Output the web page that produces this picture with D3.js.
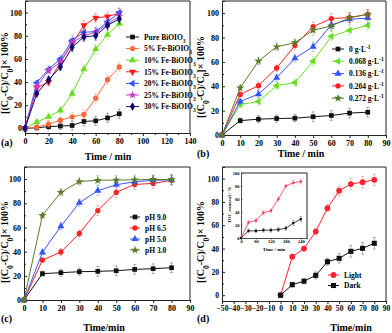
<!DOCTYPE html>
<html>
<head>
<meta charset="utf-8">
<script src="https://cdn.jsdelivr.net/npm/d3@7"></script>
<style>
  body { margin: 0; background: #fff; }
  text { font-family: "Liberation Serif", "Times New Roman", serif; font-weight: bold; fill: #000; }
</style>
</head>
<body>
<svg id="chart" width="392" height="333"></svg>
<script>
// sampling times (min), shared by all four panels
const time = [0, 10, 20, 30, 40, 50, 60, 70, 80];

// (a) Fe doping level
const pureA  = [0, 0.5, 1.5, 2, 2.5, 6, 6.5, 9, 12.6];
const fe5A   = [0, 1, 3.7, 7, 10, 12, 26, 42, 53];
const fe10A  = [0, 5.5, 10, 15.5, 30, 51, 68.5, 81, 90.5];
const fe15A  = [0, 35, 40, 57, 73, 89, 95.5, 96.5, 99.5];
const fe20A  = [0, 39.5, 51, 60, 76, 83, 83.5, 92, 100];
const fe25A  = [0, 36, 50, 57, 74, 80, 83, 90, 97];
const fe30A  = [0, 30, 42, 53, 70, 79, 80, 89, 94.5];
const errA   = [0, 2, 3, 3, 4, 4, 4, 4, 4];

// (b) catalyst dosage
const dose0B    = [0, 11.8, 13, 13.5, 13.8, 15, 16, 18, 18.7];
const dose068B  = [0, 25, 27.5, 40.5, 43, 60.6, 81, 86, 90];
const dose136B  = [0, 27.5, 33.6, 47, 63, 72.5, 90.4, 95, 96];
const dose204B  = [0, 33.3, 40.5, 55, 73.5, 89, 95.6, 96.4, 99];
const dose272B  = [0, 38.6, 60.6, 72.4, 75.8, 86, 89.5, 96.4, 99];
const errB      = [0, 2, 3, 3, 3, 4, 4, 4, 4];

// (c) initial pH
const ph9C  = [0, 21.8, 22.6, 23.4, 23.7, 24.2, 25.3, 25.9, 26.7];
const ph65C = [0, 33, 39.7, 55, 74, 89, 95.6, 96.4, 99];
const ph5C  = [0, 39.4, 61, 80.4, 90.4, 95.3, 97.8, 99, 99.4];
const ph3C  = [0, 70, 89, 98, 99, 99.2, 99.4, 99.7, 99.7];
const errC  = [0, 2, 3, 3, 4, 4, 4, 4, 4];

// (d) light vs dark
const lightD = [0, 33, 40, 54.6, 74.7, 89.7, 95.4, 97, 99];
const darkD  = [0, 9, 12, 17, 28.7, 31.6, 37.6, 40.2, 44.5];
const errD   = [0, 2, 2, 3, 3, 4, 5, 5, 5];

// (d) inset: TOC removal
const tocTime  = [0, 30, 60, 90, 120, 150, 180, 210, 240];
const tocLight = [0, 24, 27, 39, 42, 60, 80, 85, 87];
const tocDark  = [0, 11, 11, 12, 12, 13, 15, 23, 29];
const tocErr   = [0, 3, 3, 3, 3, 3, 3, 4, 4];

const svg = d3.select('#chart');

// writes text made of [string, 'sub'|'sup'|null] parts
function rich(sel, parts) {
  parts.forEach(([s, kind]) => {
    const t = sel.append('tspan').text(s);
    if (kind === 'sub') t.attr('baseline-shift', 'sub').attr('font-size', '75%');
    if (kind === 'sup') t.attr('baseline-shift', 'super').attr('font-size', '75%');
  });
  return sel;
}

const yLabel = [['[(C', null], ['0', 'sub'], ['-C)/C', null], ['0', 'sub'], [']× 100%', null]];

function symbolPath(kind, size) {
  const types = {
    square: d3.symbolSquare, circle: d3.symbolCircle, tri: d3.symbolTriangle,
    triDown: d3.symbolTriangle, triLeft: d3.symbolTriangle, star: d3.symbolStar, diamond: d3.symbolDiamond
  };
  return d3.symbol().type(types[kind]).size(size)();
}
function symbolRot(kind) {
  if (kind === 'triDown') return 180;
  if (kind === 'triLeft') return -90;
  return 0;
}

function drawPanel(cfg) {
  const g = svg.append('g');
  const x = d3.scaleLinear().domain(cfg.xDomain).range(cfg.xRange);
  const y = d3.scaleLinear().domain(cfg.yDomain).range(cfg.yRange);
  const [x0, x1] = cfg.xRange, [y0, y1] = cfg.yRange;
  const fs = cfg.tickFont || 8;
  const tl = cfg.tickLen || 3, tp = cfg.tickPad || 2;

  if (cfg.background)
    g.append('rect').attr('x', x0).attr('y', y1).attr('width', x1 - x0).attr('height', y0 - y1).attr('fill', '#fff');

  // x axis (ticks outward)
  g.append('g').attr('transform', `translate(0,${y0})`)
    .call(d3.axisBottom(x).tickValues(cfg.xTicks).tickSize(tl).tickPadding(tp));
  if (cfg.xMinor)
    g.append('g').attr('transform', `translate(0,${y0})`)
      .call(d3.axisBottom(x).tickValues(cfg.xMinor).tickSize(2).tickFormat(''))
      .call(a => a.select('.domain').remove());
  // y axis (ticks inward)
  g.append('g').attr('transform', `translate(${x0},0)`)
    .call(d3.axisLeft(y).tickValues(cfg.yTicks).tickSize(-tl).tickPadding(tp + 1));
  if (cfg.yMinor)
    g.append('g').attr('transform', `translate(${x0},0)`)
      .call(d3.axisLeft(y).tickValues(cfg.yMinor).tickSize(-2).tickFormat(''))
      .call(a => a.select('.domain').remove());
  g.selectAll('.tick text').attr('font-size', fs).attr('font-family', null);
  g.selectAll('.domain, .tick line').attr('stroke', '#222');

  // frame top and right
  g.append('path').attr('d', `M${x0},${y1}H${x1}V${y0}`).attr('fill', 'none').attr('stroke', '#222');

  const xs = cfg.xs || time;
  const err = cfg.err;
  cfg.series.forEach(s => {
    const sg = g.append('g');
    // error bars
    xs.forEach((t, i) => {
      if (!err[i]) return;
      const cx = x(t), lo = y(s.values[i] - err[i]), hi = y(s.values[i] + err[i]);
      const c = cfg.cap || 1.5;
      sg.append('path')
        .attr('d', `M${cx},${lo}V${hi}M${cx - c},${hi}H${cx + c}M${cx - c},${lo}H${cx + c}`)
        .attr('stroke', s.color).attr('stroke-opacity', 0.4).attr('stroke-width', 0.8).attr('fill', 'none');
    });
    sg.append('path')
      .attr('d', d3.line().x((d, i) => x(xs[i])).y(d => y(d))(s.values))
      .attr('fill', 'none').attr('stroke', s.color).attr('stroke-width', cfg.lw || 1);
    sg.selectAll('.m').data(s.values).join('path')
      .attr('transform', (d, i) => `translate(${x(xs[i])},${y(d)}) rotate(${symbolRot(s.symbol)})`)
      .attr('d', symbolPath(s.symbol, cfg.msize || 22))
      .attr('fill', s.color);
  });

  // legend
  if (cfg.legend) {
    const L = cfg.legend;
    cfg.series.forEach((s, i) => {
      const ly = L.y + i * L.dy;
      g.append('line').attr('x1', L.x).attr('x2', L.x + L.w).attr('y1', ly).attr('y2', ly)
        .attr('stroke', s.color).attr('stroke-width', 1);
      g.append('path').attr('d', symbolPath(s.symbol, cfg.msize || 22))
        .attr('transform', `translate(${L.x + L.w / 2},${ly}) rotate(${symbolRot(s.symbol)})`)
        .attr('fill', s.color);
      rich(g.append('text').attr('x', L.x + L.w + 5).attr('y', ly + 2.7).attr('font-size', L.fs || 7.5), s.label);
    });
  }

  // axis titles and panel tag
  if (cfg.yTitle)
    rich(g.append('text').attr('transform', `translate(${cfg.yTitle[0]},${cfg.yTitle[1]}) rotate(-90)`)
      .attr('text-anchor', 'middle').attr('font-size', cfg.yTitle[2] || 10), cfg.yTitle[3] || yLabel);
  if (cfg.xTitle)
    g.append('text').attr('x', cfg.xTitle[0]).attr('y', cfg.xTitle[1]).attr('text-anchor', 'middle')
      .attr('font-size', cfg.xTitle[2] || 10).text(cfg.xTitle[3]);
  if (cfg.tag)
    g.append('text').attr('x', cfg.tag[0]).attr('y', cfg.tag[1]).attr('font-size', 10).text(cfg.tag[2]);
  return g;
}

const bi = p => [[p + 'BiOIO', null], ['3', 'sub']];
const gl = v => [[v + ' g·L', null], ['-1', 'sup']];

// (a)
drawPanel({
  xDomain: [0, 140], xRange: [25, 190], yDomain: [-4, 110], yRange: [133, 1],
  xTicks: d3.range(0, 141, 20), xMinor: d3.range(10, 140, 20),
  yTicks: d3.range(0, 101, 20), yMinor: d3.range(10, 110, 20),
  err: errA,
  series: [
    { label: bi('Pure '), values: pureA, color: '#111111', symbol: 'square' },
    { label: bi('5% Fe-'), values: fe5A, color: '#ff6a3a', symbol: 'circle' },
    { label: bi('10% Fe-'), values: fe10A, color: '#66dd22', symbol: 'tri' },
    { label: bi('15% Fe-'), values: fe15A, color: '#ff1a1a', symbol: 'triDown' },
    { label: bi('20% Fe-'), values: fe20A, color: '#3355ff', symbol: 'triLeft' },
    { label: bi('25% Fe-'), values: fe25A, color: '#c040c8', symbol: 'star' },
    { label: bi('30% Fe-'), values: fe30A, color: '#0a0a6e', symbol: 'diamond' }
  ],
  legend: { x: 126, y: 37, dy: 11.6, w: 13 },
  yTitle: [8, 73], xTitle: [108, 160, 10, 'Time / min'], tag: [1, 146, '(a)']
});

// (b)
drawPanel({
  xDomain: [0, 90], xRange: [222, 386], yDomain: [0, 110], yRange: [135, 1],
  xTicks: d3.range(0, 91, 10),
  yTicks: d3.range(0, 101, 20), yMinor: d3.range(10, 110, 20),
  err: errB,
  series: [
    { label: gl('0'), values: dose0B, color: '#111111', symbol: 'square' },
    { label: gl('0.068'), values: dose068B, color: '#66dd22', symbol: 'triLeft' },
    { label: gl('0.136'), values: dose136B, color: '#3355ff', symbol: 'tri' },
    { label: gl('0.204'), values: dose204B, color: '#ff2222', symbol: 'circle' },
    { label: gl('0.272'), values: dose272B, color: '#5b7a2c', symbol: 'star' }
  ],
  legend: { x: 332, y: 49, dy: 12.3, w: 12 },
  yTitle: [204, 77], xTitle: [301, 157, 10, 'Time / min'], tag: [197, 157, '(b)']
});

// (c)
drawPanel({
  xDomain: [0, 90], xRange: [24, 190], yDomain: [0, 110], yRange: [300, 167],
  xTicks: d3.range(0, 91, 10),
  yTicks: d3.range(0, 101, 20), yMinor: d3.range(10, 110, 20),
  err: errC,
  series: [
    { label: [['pH 9.0', null]], values: ph9C, color: '#111111', symbol: 'square' },
    { label: [['pH 6.5', null]], values: ph65C, color: '#ff2222', symbol: 'circle' },
    { label: [['pH 5.0', null]], values: ph5C, color: '#3355ff', symbol: 'tri' },
    { label: [['pH 3.0', null]], values: ph3C, color: '#5b7a2c', symbol: 'star' }
  ],
  legend: { x: 130, y: 217, dy: 11, w: 10 },
  yTitle: [8, 242], xTitle: [104, 331, 10, 'Time/min'], tag: [1, 322, '(c)']
});

// (d)
drawPanel({
  xDomain: [-50, 90], xRange: [222, 386], yDomain: [-5, 110], yRange: [301, 167],
  xTicks: d3.range(-50, 91, 10), tickFont: 7.6,
  yTicks: d3.range(0, 101, 20), yMinor: d3.range(10, 110, 20),
  err: errD, msize: 26,
  series: [
    { label: [['Light', null]], values: lightD, color: '#ff2233', symbol: 'circle' },
    { label: [['Dark', null]], values: darkD, color: '#111111', symbol: 'square' }
  ],
  legend: { x: 328, y: 275, dy: 10.5, w: 11 },
  yTitle: [204, 242], xTitle: [351, 331, 10, 'Time/min'], tag: [197, 322, '(d)']
});

// (d) inset
const inset = drawPanel({
  xDomain: [0, 265], xRange: [241, 307], yDomain: [0, 100], yRange: [238, 173],
  xTicks: d3.range(0, 241, 60), yTicks: d3.range(0, 101, 20),
  xs: tocTime, err: tocErr, msize: 5, lw: 0.8, cap: 1, tickFont: 4.5, tickLen: 1.5, tickPad: 0.5,
  background: true,
  series: [
    { label: [['Light', null]], values: tocLight, color: '#ff3355', symbol: 'circle' },
    { label: [['Dark', null]], values: tocDark, color: '#111111', symbol: 'square' }
  ],
  yTitle: [231, 205, 4.8, [['TOC removal / %', null]]], xTitle: [274, 251, 4.8, 'Time / min']
});
inset.selectAll('.tick line').attr('stroke-width', 0.6);
inset.selectAll('.domain').attr('stroke-width', 0.8);
</script>
</body>
</html>
